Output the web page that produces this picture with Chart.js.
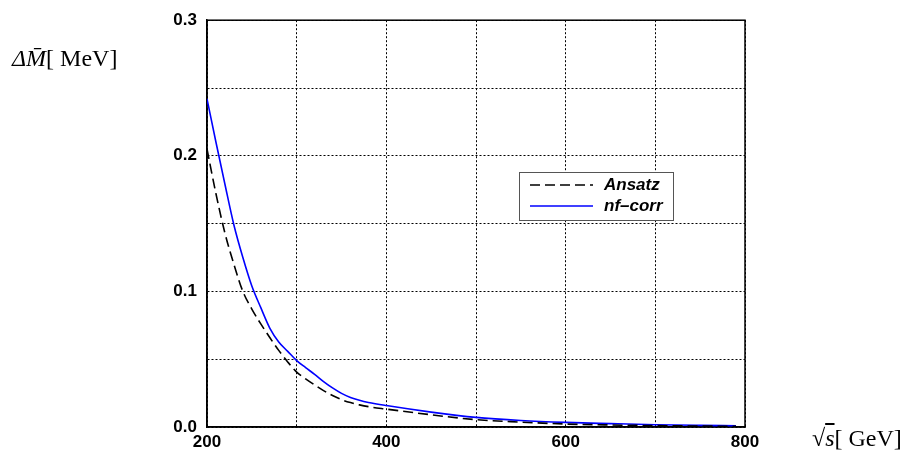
<!DOCTYPE html>
<html>
<head>
<meta charset="utf-8">
<script src="https://cdn.jsdelivr.net/npm/chart.js@4"></script>
<style>
  body { margin: 0; background: #fff; }
  #wrap { position: relative; width: 911px; height: 456px; }
  .axTitle { position: absolute; font-family: "Liberation Serif", "DejaVu Serif", serif; font-size: 24px; color: #000; white-space: nowrap; }
</style>
</head>
<body>
<div id="wrap">
  <canvas id="chart" width="911" height="456"></canvas>
  <div class="axTitle" style="left:12px; top:45px;"><i>Δ</i><i>M̄</i>[ MeV]</div>
  <div class="axTitle" style="left:812px; top:425px;">√<i style="text-decoration:overline">s</i>[ GeV]</div>
</div>
<script>
// sqrt(s) in GeV
const sValues = [200, 210, 220, 230, 240, 250, 260, 270, 280, 290, 300, 310, 320, 330, 340, 350, 360, 370, 380, 400, 450, 500, 550, 600, 650, 700, 750, 790];
// Delta M bar in MeV
const ansatzValues = [0.205, 0.172, 0.143, 0.12, 0.1, 0.087, 0.076, 0.066, 0.0565, 0.048, 0.0405, 0.0355, 0.031, 0.0268, 0.0232, 0.0202, 0.018, 0.0163, 0.015, 0.0132, 0.009, 0.0054, 0.0036, 0.0022, 0.0015, 0.001, 0.0007, 0.0005];
const nfCorrValues = [0.242, 0.210, 0.179, 0.149, 0.125, 0.104, 0.088, 0.073, 0.0627, 0.0558, 0.049, 0.0438, 0.0388, 0.0335, 0.0288, 0.0248, 0.0218, 0.0197, 0.0181, 0.0158, 0.011, 0.0071, 0.0048, 0.0034, 0.0025, 0.0017, 0.0012, 0.0009];
const xTickLabels = [200, 400, 600, 800];
const yTickLabels = [0, 0.1, 0.2, 0.3];

const toPts = (ys) => sValues.map((s, i) => ({ x: s, y: ys[i] }));

const tickFont = { family: "Liberation Sans, Arial, sans-serif", size: 17, weight: "bold" };

// legend box drawn inside the plot
const legendBox = {
  id: "legendBox",
  afterDraw(chart) {
    const ctx = chart.ctx;
    ctx.save();
    ctx.fillStyle = "#fff";
    ctx.fillRect(519, 172, 154, 48);
    ctx.strokeStyle = "#555";
    ctx.lineWidth = 1;
    ctx.strokeRect(519.5, 172.5, 154, 48);
    const rows = [
      { y: 185, ds: chart.data.datasets[0] },
      { y: 206, ds: chart.data.datasets[1] },
    ];
    ctx.font = "italic bold 17px 'Liberation Sans', Arial, sans-serif";
    ctx.textBaseline = "middle";
    rows.forEach((r) => {
      ctx.beginPath();
      ctx.strokeStyle = r.ds.borderColor;
      ctx.lineWidth = 1.5;
      ctx.setLineDash(r.ds.borderDash || []);
      ctx.moveTo(530, r.y);
      ctx.lineTo(593, r.y);
      ctx.stroke();
      ctx.setLineDash([]);
      ctx.fillStyle = "#000";
      ctx.fillText(r.ds.label, 604, r.y);
    });
    ctx.restore();
  },
};

// frame round the whole plot area
const frame = {
  id: "frame",
  beforeDatasetsDraw(chart) {
    const { ctx, chartArea: a } = chart;
    ctx.save();
    ctx.strokeStyle = "#000";
    ctx.lineWidth = 1.5;
    ctx.strokeRect(a.left, a.top, a.right - a.left, a.bottom - a.top);
    ctx.restore();
  },
};

new Chart(document.getElementById("chart"), {
  type: "line",
  data: {
    datasets: [
      {
        label: "Ansatz",
        data: toPts(ansatzValues),
        borderColor: "#000",
        borderWidth: 1.6,
        borderDash: [10, 5],
        pointRadius: 0,
        cubicInterpolationMode: "monotone",
        fill: false,
      },
      {
        label: "nf\u2013corr",
        data: toPts(nfCorrValues),
        borderColor: "#0000ff",
        borderWidth: 1.6,
        pointRadius: 0,
        cubicInterpolationMode: "monotone",
        fill: false,
      },
    ],
  },
  options: {
    responsive: false,
    animation: false,
    layout: { padding: { left: 0, top: 19, right: 166, bottom: 0 } },
    plugins: { legend: { display: false }, tooltip: { enabled: false } },
    scales: {
      x: {
        type: "linear",
        min: 200,
        max: 800,
        afterFit: (s) => { s.height = 29; },
        ticks: {
          stepSize: 100,
          autoSkip: false,
          maxRotation: 0,
          padding: 5,
          color: "#000",
          font: tickFont,
          callback: (v) => (xTickLabels.includes(v) ? String(v) : ""),
        },
        grid: { color: "#000", lineWidth: 1, drawTicks: false },
        border: { color: "#000", width: 1.5, dash: [2, 2] },
      },
      y: {
        min: 0,
        max: 0.3,
        afterFit: (s) => { s.width = 207; },
        ticks: {
          stepSize: 0.05,
          autoSkip: false,
          padding: 10,
          color: "#000",
          font: tickFont,
          callback: (v) => {
            const hit = yTickLabels.find((t) => Math.abs(t - v) < 1e-6);
            return hit !== undefined ? hit.toFixed(1) : "";
          },
        },
        grid: { color: "#000", lineWidth: 1, drawTicks: false },
        border: { color: "#000", width: 1.5, dash: [2, 2] },
      },
    },
  },
  plugins: [legendBox, frame],
});
</script>
</body>
</html>
